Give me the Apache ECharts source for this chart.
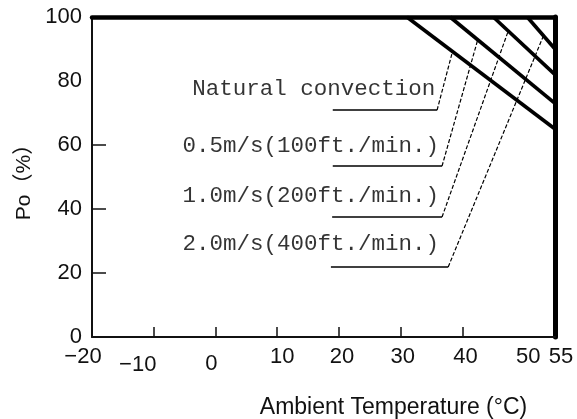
<!DOCTYPE html>
<html><head><meta charset="utf-8">
<script src="https://cdn.jsdelivr.net/npm/echarts@6/dist/echarts.min.js"></script>
<style>html,body{margin:0;padding:0;background:#fff}#c{width:577px;height:419px}</style>
</head><body><div id="c"></div>
<script>
// ---- data ----
const xTickLabels = [-20, -10, 0, 10, 20, 30, 40, 50, 55];
const xTickMarks = [-10, 0, 10, 20, 30, 40];
const yTickLabels = [0, 20, 40, 60, 80, 100];
const yTickMarks = [20, 40, 60];
const curveNames = ['Natural convection', '0.5m/s(100ft./min.)', '1.0m/s(200ft./min.)', '2.0m/s(400ft./min.)'];
const curveNatural = [[31, 100], [55, 65]];
const curve05 = [[38, 100], [55, 73]];
const curve10 = [[45, 100], [55, 82]];
const curve20 = [[50.5, 100], [55, 90]];
const labelAnchors = [[35.6, 77.5], [36.2, 59.8], [36.2, 44.2], [36.2, 29.2]];
const underlines = [
  [[19.0, 70.9], [35.9, 70.9]],
  [[19.0, 53.4], [36.7, 53.4]],
  [[18.9, 37.5], [36.7, 37.5]],
  [[18.7, 21.9], [37.7, 21.9]]
];
const leaderTops = [[38.3, 88.5], [42.5, 93], [47.4, 95.5], [53.1, 94]];

// ---- style ----
const xLabelNudge = { '-20': [-9, 0], '-10': [-16, 8], '0': [-4, 7], '10': [5, 0], '20': [3, 0], '30': [2, 0], '40': [3, 0], '50': [4, 0], '55': [6, 0] };
const sansFont = 'Liberation Sans, Arial, sans-serif';
const monoFont = 'Liberation Mono, DejaVu Sans Mono, monospace';

const rich = {};
xTickLabels.forEach((v, i) => {
  const n = xLabelNudge[String(v)] || [0, 0];
  rich['k' + i] = {
    fontFamily: sansFont, fontSize: 22, color: '#111',
    padding: [n[1], n[0] < 0 ? -2 * n[0] : 0, 0, n[0] > 0 ? 2 * n[0] : 0]
  };
});

const curves = [curveNatural, curve05, curve10, curve20];
const series = [];
underlines.forEach((u) => {
  series.push({ type: 'line', data: u, symbol: 'none', silent: true, lineStyle: { color: '#000', width: 1.5 }, z: 3 });
});
underlines.forEach((u, i) => {
  series.push({ type: 'line', data: [u[1], leaderTops[i]], symbol: 'none', silent: true, lineStyle: { color: '#000', width: 1.2, type: [4, 2] }, z: 3 });
});
curves.forEach((c) => {
  series.push({ type: 'line', data: c, symbol: 'none', silent: true, lineStyle: { color: '#000', width: 3.6 }, z: 5 });
});
series.push({
  type: 'scatter', symbolSize: 0, silent: true, z: 6,
  data: labelAnchors.map((p, i) => ({ value: p, name: curveNames[i] })),
  label: { show: true, position: 'left', distance: 0, formatter: '{b}', fontFamily: monoFont, fontSize: 22.5, color: '#000' }
});

const chart = echarts.init(document.getElementById('c'));
chart.setOption({
  animation: false,
  backgroundColor: '#fff',
  grid: { left: 92, right: 22, top: 17, bottom: 82, outerBoundsMode: 'none', containLabel: false },
  xAxis: [{
    type: 'value', min: -20, max: 55, position: 'bottom',
    splitLine: { show: false },
    axisLine: { show: true, onZero: false, lineStyle: { color: '#111', width: 2 } },
    axisTick: { show: true, inside: true, length: 10, customValues: xTickMarks, lineStyle: { color: '#111', width: 1.5 } },
    axisLabel: {
      show: true, customValues: xTickLabels, margin: 9, fontFamily: sansFont, fontSize: 22, color: '#111',
      formatter: (v) => { const i = xTickLabels.indexOf(v); return '{k' + i + '|' + String(v).replace('-', '\u2212') + '}'; },
      rich: rich
    },
    name: 'Ambient Temperature (\u00b0C)', nameLocation: 'middle', nameGap: 59,
    nameTextStyle: { fontFamily: sansFont, fontSize: 23, color: '#111', padding: [0, 0, 0, 140] }
  }, {
    type: 'value', min: -20, max: 55, position: 'top',
    splitLine: { show: false }, axisTick: { show: false }, axisLabel: { show: false },
    axisLine: { show: true, onZero: false, lineStyle: { color: '#000', width: 4.5 } }
  }],
  yAxis: [{
    type: 'value', min: 0, max: 100, interval: 20, position: 'left',
    splitLine: { show: false },
    axisLine: { show: true, onZero: false, lineStyle: { color: '#111', width: 2 } },
    axisTick: { show: true, inside: true, length: 14, customValues: yTickMarks, lineStyle: { color: '#111', width: 1.5 } },
    axisLabel: { show: true, customValues: yTickLabels, margin: 10, fontFamily: sansFont, fontSize: 22, color: '#111' },
    name: 'Po\uff08%\uff09', nameLocation: 'middle', nameGap: 50, nameRotate: 90,
    nameTextStyle: { fontFamily: 'Liberation Sans, Noto Sans CJK SC, sans-serif', fontSize: 21, color: '#111' }
  }, {
    type: 'value', min: 0, max: 100, position: 'right',
    splitLine: { show: false }, axisTick: { show: false }, axisLabel: { show: false },
    axisLine: { show: true, onZero: false, lineStyle: { color: '#000', width: 5 } }
  }],
  series: series
});
</script>
</body></html>
